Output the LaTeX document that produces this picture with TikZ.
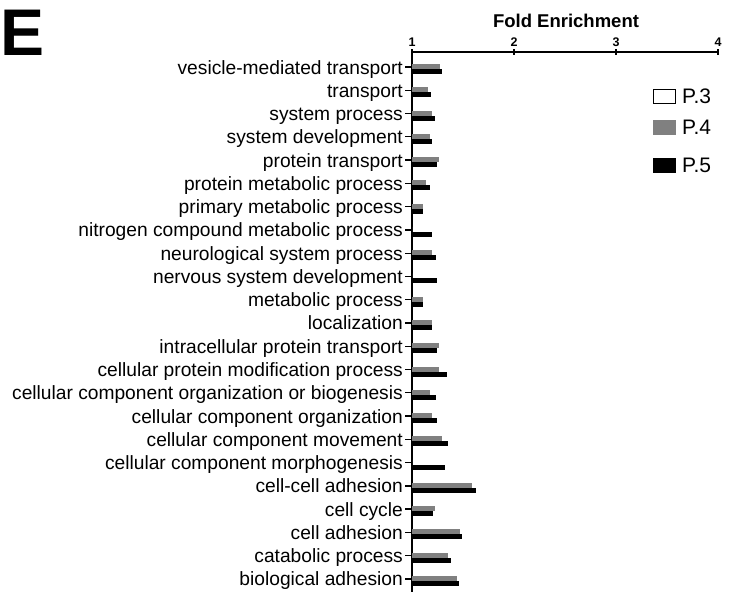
\documentclass[tikz,border=0pt]{standalone}
\usepackage{fontspec}
\setmainfont{Liberation Sans}
\definecolor{barg}{RGB}{128,128,128}
\begin{document}
\begin{tikzpicture}[x=1pt,y=-1pt,
  lab/.style={anchor=base east, inner sep=0pt, font=\fontsize{19.2}{19.2}\selectfont},
  ticklab/.style={anchor=base, inner sep=0pt, font=\fontsize{12.5}{12.5}\selectfont\bfseries},
  axisline/.style={line width=1.6pt, black},
  tickline/.style={line width=1.3pt, black},
  graybar/.style={fill=barg},
  blackbar/.style={fill=black},
  legbox/.style={draw=black, line width=1pt, minimum width=22pt, minimum height=14pt, inner sep=0pt},
  legtext/.style={anchor=west, inner sep=0pt, font=\fontsize{21}{21}\selectfont}]
\useasboundingbox (0,0) rectangle (729,592);
% panel letter and title
\node[anchor=base west, inner sep=0pt, font=\fontsize{66}{66}\selectfont\bfseries] (E) at (0,55) {E};
\node[anchor=base, inner sep=0pt, font=\fontsize{18.5}{18.5}\selectfont\bfseries] (title) at (566,27) {Fold Enrichment};
% axes
\coordinate (ax0) at (412,52);
\coordinate (ax4) at (718,52);
\coordinate (axb) at (412,592);
\draw[axisline] (ax4) -- (ax0) -- (axb);
\foreach \v/\xx in {1/412,2/514,3/616,4/718}{
  \coordinate (tt\v) at (\xx,49);
  \coordinate (tb\v) at (\xx,55);
  \draw[tickline] (tt\v) -- (tb\v);
  \node[ticklab] (tl\v) at (\xx,46) {\v};
}
% categories
\foreach \i/\lab/\g/\b in {
 1/vesicle-mediated transport/440/442,
 2/transport/428/431,
 3/system process/432/435,
 4/system development/430/432,
 5/protein transport/439/437,
 6/protein metabolic process/426/430,
 7/primary metabolic process/423/423,
 8/nitrogen compound metabolic process/412/432,
 9/neurological system process/432/436,
 10/nervous system development/412/437,
 11/metabolic process/423/423,
 12/localization/432/432,
 13/intracellular protein transport/439/437,
 14/cellular protein modification process/439/447,
 15/cellular component organization or biogenesis/430/436,
 16/cellular component organization/432/437,
 17/cellular component movement/442/448,
 18/cellular component morphogenesis/412/445,
 19/cell-cell adhesion/472/476,
 20/cell cycle/435/433,
 21/cell adhesion/460/462,
 22/catabolic process/448/451,
 23/biological adhesion/457/459}{
  \pgfmathsetmacro{\c}{67+23.27*(\i-1)}
  \fill[graybar] (412,\c-3) rectangle (\g,\c+2);
  \fill[blackbar] (412,\c+2) rectangle (\b,\c+7);
  \coordinate (rt\i) at (405,\c);
  \coordinate (ra\i) at (412,\c);
  \draw[tickline] (rt\i) -- (ra\i);
  \node[lab] (l\i) at (403,\c+7) {\lab};
}
% legend
\node[legbox, fill=white] (k3) at (664,96) {};
\node[legbox, draw=barg, fill=barg] (k4) at (664,127) {};
\node[legbox, fill=black] (k5) at (664,165) {};
\node[legtext] (t3) at (682,96) {P.3};
\node[legtext] (t4) at (682,127) {P.4};
\node[legtext] (t5) at (682,165) {P.5};
\end{tikzpicture}
\end{document}
